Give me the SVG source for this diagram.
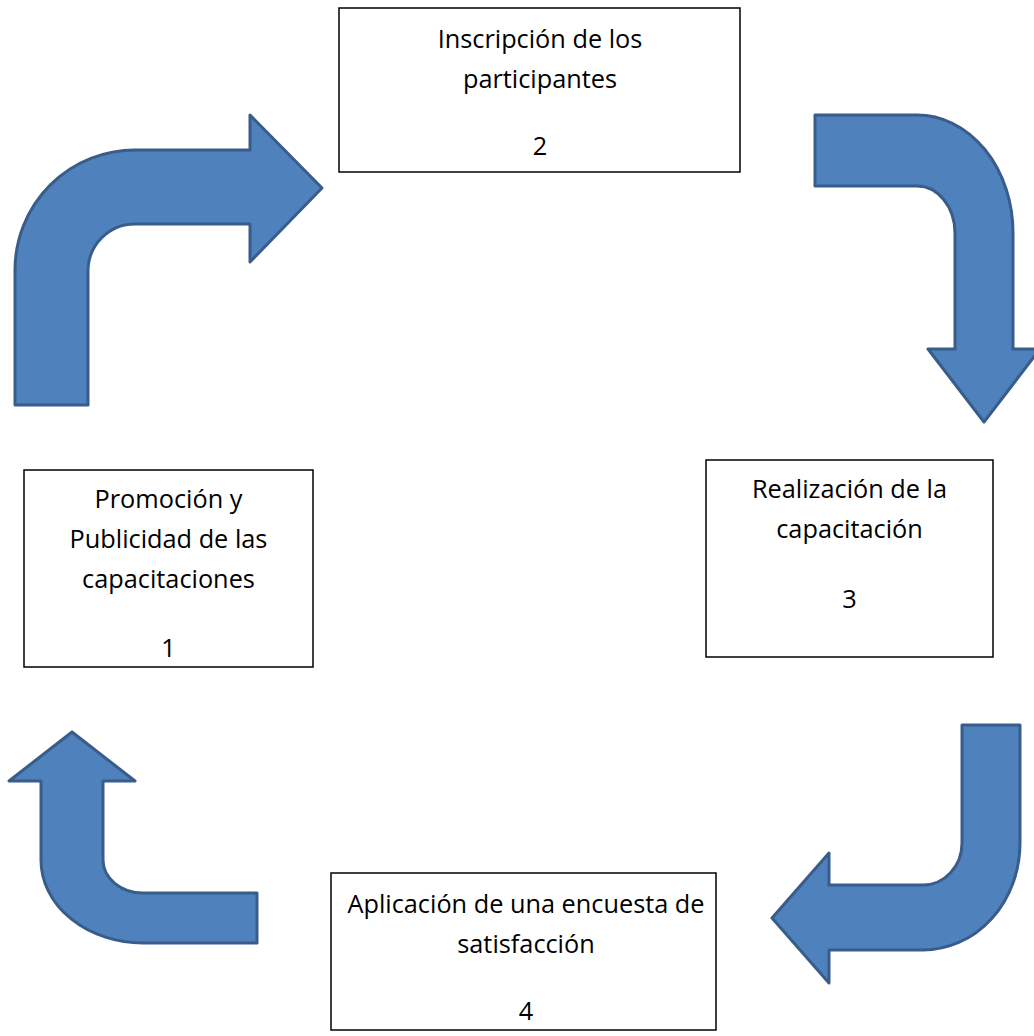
<svg xmlns="http://www.w3.org/2000/svg" width="1034" height="1036" viewBox="0 0 1034 1036">
<style>
.box{fill:#fff;stroke:#000;stroke-width:1.5}
.t{font-family:"Open Sans","Liberation Sans",sans-serif;font-size:25.3px;fill:#000;text-anchor:middle}
.arr{fill:#4F81BD;stroke:#385D8A;stroke-width:3;stroke-linejoin:round}
</style>
<rect width="1034" height="1036" fill="#fff"/>
<g id="connectors">
<path id="arrow-1-2" class="arr" d="M15,405 L15,270 A120,120 0 0 1 135,150 L250,150 L250,115 L322,188 L250,262 L250,224 L135,224 A47,47 0 0 0 88,271 L88,405 Z"/>
<path id="arrow-2-3" class="arr" d="M815,115 L917,115 A96,118 0 0 1 1013,233 L1013,349 L1040,349 L984,422 L928,349 L955,349 L955,233 A38,47 0 0 0 917,186 L815,186 Z"/>
<path id="arrow-3-4" class="arr" d="M962,725 L1020,725 L1020,843 A97,107 0 0 1 923,950 L829,950 L829,983 L772,918 L829,853 L829,885 L923,885 A39,42 0 0 0 962,843 Z"/>
<path id="arrow-4-1" class="arr" d="M72,732 L135,781 L103,781 L103,860 A40,33 0 0 0 143,893 L257,893 L257,943 L143,943 A102,83 0 0 1 41,860 L41,781 L9,781 Z"/>
</g>
<g id="node1">
<rect class="box" x="24" y="470" width="289" height="197"/>
<text class="t" x="168.5" y="508">Promoción y</text>
<text class="t" x="168.5" y="548">Publicidad de las</text>
<text class="t" x="168.5" y="588">capacitaciones</text>
<text class="t" x="168.5" y="657">1</text>
</g>
<g id="node2">
<rect class="box" x="339" y="8" width="401" height="164"/>
<text class="t" x="540" y="48">Inscripción de los</text>
<text class="t" x="540" y="88">participantes</text>
<text class="t" x="540" y="155">2</text>
</g>
<g id="node3">
<rect class="box" x="706" y="460" width="287" height="197"/>
<text class="t" x="849.5" y="498">Realización de la</text>
<text class="t" x="849.5" y="538">capacitación</text>
<text class="t" x="849.5" y="608">3</text>
</g>
<g id="node4">
<rect class="box" x="331" y="873" width="385" height="157"/>
<text class="t" x="526" y="913">Aplicación de una encuesta de</text>
<text class="t" x="526" y="953">satisfacción</text>
<text class="t" x="526" y="1020">4</text>
</g>
</svg>
